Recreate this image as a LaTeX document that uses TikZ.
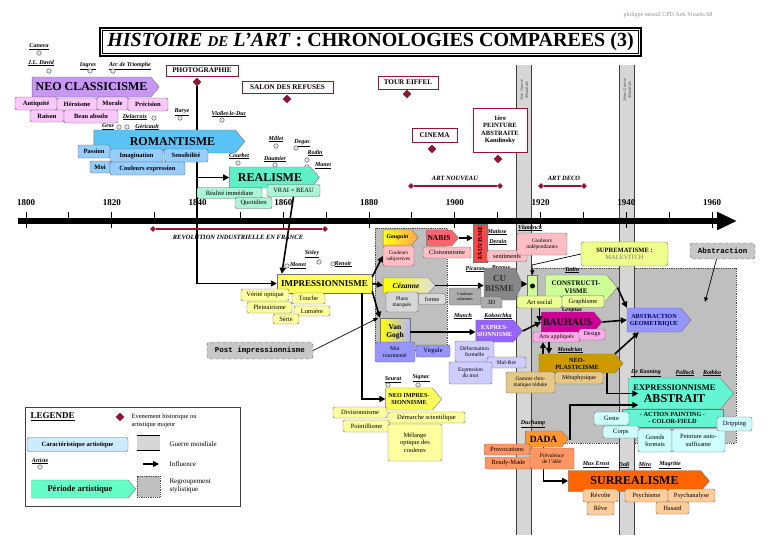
\documentclass[tikz,border=0pt]{standalone}
\usepackage{fontspec}
\setmainfont{Liberation Serif}
\setmonofont{Liberation Mono}
\usetikzlibrary{arrows.meta, positioning, shapes.symbols, shapes.geometric, backgrounds}
\definecolor{evred}{RGB}{150,20,50}
\definecolor{neoper}{RGB}{200,150,245}
\definecolor{neochar}{RGB}{250,200,250}
\definecolor{romper}{RGB}{90,195,245}
\definecolor{romchar}{RGB}{150,205,250}
\definecolor{realper}{RGB}{95,240,200}
\definecolor{realchar}{RGB}{170,245,215}
\definecolor{imprper}{RGB}{255,255,90}
\definecolor{imprchar}{RGB}{255,255,160}
\definecolor{pinkchar}{RGB}{255,190,195}
\definecolor{nabisper}{RGB}{255,100,110}
\definecolor{fauvper}{RGB}{255,70,70}
\definecolor{greychar}{RGB}{215,215,215}
\definecolor{cubper}{RGB}{135,135,135}
\definecolor{vgchar}{RGB}{150,150,250}
\definecolor{exprper}{RGB}{150,100,250}
\definecolor{exprchar}{RGB}{205,205,255}
\definecolor{constper}{RGB}{205,255,150}
\definecolor{constchar}{RGB}{235,255,150}
\definecolor{supper}{RGB}{240,255,140}
\definecolor{bauper}{RGB}{205,0,150}
\definecolor{bauchar}{RGB}{255,170,235}
\definecolor{abgper}{RGB}{150,150,255}
\definecolor{neoplper}{RGB}{205,155,0}
\definecolor{neoplchar}{RGB}{230,200,135}
\definecolor{exabper}{RGB}{100,245,210}
\definecolor{exabchar}{RGB}{205,255,255}
\definecolor{dadaper}{RGB}{255,150,50}
\definecolor{dadachar}{RGB}{255,150,100}
\definecolor{surrper}{RGB}{255,100,0}
\definecolor{surrchar}{RGB}{255,205,155}
\definecolor{legchar}{RGB}{205,235,255}
\definecolor{legper}{RGB}{100,255,200}
\newcommand{\tsz}[1]{\fontsize{#1}{\fpeval{1.12*#1}}\selectfont}

\begin{document}
\begin{tikzpicture}[x=1pt, y=-1pt,
		period/.style={signal, signal to=east, signal pointer angle=100, draw=black!55,
			fill=#1, inner sep=1pt, align=center, font=\bfseries},
		period/.default=white,
		trait/.style={draw=black!60, rounded corners=2pt, fill=#1, inner sep=0.5pt,
			align=center, minimum height=12pt, font=\tsz{6.8}},
		btrait/.style={trait=#1, font=\bfseries\tsz{6.5}},
		event/.style={draw=evred, fill=white, line width=0.8pt, inner sep=1pt,
			align=center, font=\bfseries\tsz{7.2}},
		evmark/.style={diamond, draw=evred!70!black, fill=evred, inner sep=0pt, minimum size=8pt},
		evend/.style={diamond, fill=evred, inner sep=0pt, minimum size=6pt},
		evline/.style={evred, line width=1.4pt},
		evlabel/.style={font=\bfseries\itshape\tsz{6.5}},
		artist/.style={inner sep=0.3pt, font=\bfseries\itshape\tsz{6}},
		adot/.style={circle, draw=black!75, fill=black!8, inner sep=0pt, minimum size=4.5pt},
		infl/.style={-{Triangle[length=6pt,width=6pt]}, line width=1.6pt},
		lightarr/.style={-{Triangle[length=4.5pt,width=4pt]}, line width=0.7pt},
		band/.style={fill=black!16, draw=none, minimum width=14pt, minimum height=470pt, inner sep=0pt},
		region/.style={fill=black!25, draw=black!70, densely dotted, line width=0.8pt, inner sep=0pt},
		note/.style={draw=black!70, dashed, rounded corners=3pt, fill=black!22,
			font=\ttfamily\bfseries\tsz{7.5}, inner sep=2pt},
		year/.style={font=\bfseries\tsz{9}}
	]
	\useasboundingbox (0,0) rectangle (768,543);

	% titre
	\node[minimum width=541pt, minimum height=28pt, inner sep=0pt, font=\bfseries\tsz{20}] (titre) at (370.5,42)
		{\textit{HISTOIRE {\tsz{15}DE} L'ART} : CHRONOLOGIES COMPAREES (3)};
	\draw[line width=1.6pt] (titre.north west) rectangle (titre.south east);
	\draw[line width=0.6pt] ([shift={(2.5,2.5)}]titre.north west) rectangle ([shift={(-2.5,-2.5)}]titre.south east);
	\node[font=\tsz{6}, text=black!45] (credit) at (668,15) {philippe mesnil CPD Arts Visuels 68};

	% regroupements et guerres
	\node[region, minimum width=72pt, minimum height=122pt] (regpost) at (411,289) {};
	\node[region, minimum width=205pt, minimum height=175pt] (regabs) at (633.5,355.5) {};
	\node[band] (ww1) at (524,300) {};
	\node[band] (ww2) at (627,300) {};
	\draw[line width=1.2pt, black!75] (ww1.north west) -- (ww1.south west) (ww1.north east) -- (ww1.south east);
	\draw[line width=1.2pt, black!75] (ww2.north west) -- (ww2.south west) (ww2.north east) -- (ww2.south east);
	\node[rotate=90, align=center, font=\itshape\tsz{4.5}, text=black!70] (ww1txt) at (524,90) {1ère Guerre\\Mondiale};
	\node[rotate=90, align=center, font=\itshape\tsz{4.5}, text=black!70] (ww2txt) at (627,90) {2ème Guerre\\Mondiale};

	% frise
	\coordinate (t0) at (18,221);
	\coordinate (t1) at (737,221);
	\draw[line width=6pt, -{Triangle[length=20pt,width=17pt]}] (t0) -- (t1);
	\foreach \k in {0,...,16}
		\draw[line width=1pt] ({26+42.875*\k},212) -- ({26+42.875*\k},221);
	\foreach \k in {0,2,...,16}
		\draw[line width=1pt] ({26+42.875*\k},221) -- ({26+42.875*\k},228);
	\foreach \k/\yr in {0/1800,2/1820,4/1840,6/1860,8/1880,10/1900,12/1920,14/1940,16/1960}
		\node[year] (y\yr) at ({26+42.875*\k},203) {\yr};

	% periodes historiques
	\node[evend] (revA) at (153,229) {};
	\node[evend] (revB) at (325,229) {};
	\draw[evline] (revA) -- (revB);
	\node[evlabel] (revtxt) at (238,237) {REVOLUTION INDUSTRIELLE EN FRANCE};
	\node[evend] (anA) at (411,186) {};
	\node[evend] (anB) at (500,186) {};
	\draw[evline] (anA) -- (anB);
	\node[evlabel] (antxt) at (455,178) {ART NOUVEAU};
	\node[evend] (adA) at (541,186) {};
	\node[evend] (adB) at (584,186) {};
	\draw[evline] (adA) -- (adB);
	\node[evlabel] (adtxt) at (564,178) {ART DECO};

	% evenements
	\node[event, minimum width=72pt, minimum height=11pt] (photo) at (202,70.5) {PHOTOGRAPHIE};
	\node[evmark] (photoev) at (197,82) {};
	\node[event, minimum width=91pt, minimum height=12pt] (salon) at (287.5,87) {SALON DES REFUSES};
	\node[evmark] (salonev) at (287,99) {};
	\node[event, minimum width=60pt, minimum height=13pt] (eiffel) at (408,82.5) {TOUR EIFFEL};
	\node[evmark] (eiffelev) at (407,94) {};
	\node[event, minimum width=45pt, minimum height=14pt] (cinema) at (434.5,135) {CINEMA};
	\node[evmark] (cinemaev) at (432,149) {};
	\node[event, minimum width=54pt, minimum height=44pt, font=\bfseries\tsz{6.5}] (kand) at (500,130) {1ère\\PEINTURE\\ABSTRAITE\\Kandinsky};
	\node[evmark] (kandev) at (498,159) {};

	% artistes
	\foreach \nm/\tx/\x/\y/\ox/\oy in {canova/Canova/39/47/39/53, david/J.L. David/41/63/49/71,
			ingres/Ingres/88/66/90/71, arc/Arc de Triomphe/130/66/113/71, barye/Barye/182/112/180/118,
			delacroix/Delacroix/135/117/154/118, gros/Gros/108/127/119/127, gericault/Géricault/147/127/127/127,
			viollet/Viollet-le-Duc/229/114/222/120, millet/Millet/276/139/276/146, degas/Degas/302/143/296/148,
			courbet/Courbet/239/156/238/163, daumier/Daumier/275/159/275/165, rodin/Rodin/315/153/307/160,
			manet/Manet/323/166/307/167, sisley/Sisley/312/254/319/262, monet/Monet/298/266/287/266,
			renoir/Renoir/343/264/333/264, seurat/Seurat/393/380/388/385, signac/Signac/421/378/418/385}{
		\node[artist] (\nm) at (\x,\y) {\underline{\tx}};
		\node[adot] (\nm-o) at (\ox,\oy) {};
	}
	\foreach \nm/\tx/\x/\y in {matisse/Matisse/497/232, derain/Derain/498/242, vlaminck/Vlaminck/530/228,
			picasso/Picasso/475/269, braque/Braque/501/269, munch/Munch/463/316, kokoschka/Kokoschka/498/316,
			tatlin/Tatlin/572/270, gropius/Gropius/572/311, mondrian/Mondrian/570/350, duchamp/Duchamp/533/424,
			kooning/De Kooning/646/373, pollock/Pollock/685/373, rothko/Rothko/712/373, ernst/Max Ernst/596/465,
			dali/Dali/624/465, miro/Miro/645/465, magritte/Magritte/670/465}
		\node[artist] (\nm) at (\x,\y) {\underline{\tx}};

	% neo classicisme
	\node[period=neoper, minimum width=127pt, minimum height=20pt, font=\bfseries\tsz{12}] (neo) at (91.5,87) {NEO CLASSICISME};
	\node[btrait=neochar, minimum width=42pt, minimum height=13pt] (antiq) at (36,103.5) {Antiquité};
	\node[btrait=neochar, minimum width=40pt, minimum height=13pt] (heroi) at (77,104.5) {Héroïsme};
	\node[btrait=neochar, minimum width=31pt, minimum height=13pt] (morale) at (112.5,103.5) {Morale};
	\node[btrait=neochar, minimum width=40pt, minimum height=13pt] (precis) at (148,104.5) {Précision};
	\node[btrait=neochar, minimum width=34pt, minimum height=12pt] (raison) at (47,116) {Raison};
	\node[btrait=neochar, minimum width=54pt, minimum height=13pt] (beau) at (91,116.5) {Beau absolu};

	% romantisme
	\node[period=romper, minimum width=151pt, minimum height=23pt, font=\bfseries\tsz{12}] (roman) at (164.5,141.5) {\hspace*{16pt}ROMANTISME};
	\node[btrait=romchar, minimum width=32pt, minimum height=13pt] (passion) at (94,151.5) {Passion};
	\node[btrait=romchar, minimum width=53pt, minimum height=13pt] (imagin) at (136.5,155.5) {Imagination};
	\node[btrait=romchar, minimum width=44pt, minimum height=13pt] (sensib) at (186,155.5) {Sensibilité};
	\node[btrait=romchar, minimum width=20pt, minimum height=12pt] (moi) at (100,167) {Moi};
	\node[btrait=romchar, minimum width=75pt, minimum height=13pt] (coulexp) at (147.5,168.5) {Couleurs expression};

	% realisme
	\node[period=realper, minimum width=90pt, minimum height=21pt, font=\bfseries\tsz{12}] (real) at (270,177.5) {REALISME};
	\node[trait=realchar, minimum width=65pt, minimum height=11pt, font=\tsz{6.5}] (realimm) at (229.5,193) {Réalité immédiate};
	\node[trait=realchar, minimum width=53pt, minimum height=12pt, font=\tsz{6.5}] (vrai) at (293.5,190.5) {VRAI = BEAU};
	\node[trait=realchar, minimum width=37pt, minimum height=11pt, font=\tsz{6.5}] (quotid) at (253.5,203) {Quotidien};

	% impressionnisme
	\node[draw=black!55, fill=imprper, minimum width=95pt, minimum height=19pt, inner sep=1pt, font=\bfseries\tsz{9}] (impr) at (324.5,283.5) {IMPRESSIONNISME};
	\node[trait=imprchar, minimum width=48pt, minimum height=12pt, font=\tsz{6.5}] (verite) at (265,295) {Vérité optique};
	\node[trait=imprchar, minimum width=33pt, minimum height=11pt, font=\tsz{6.5}] (touche) at (308.5,298.5) {Touche};
	\node[trait=imprchar, minimum width=45pt, minimum height=11pt, font=\tsz{6.5}] (plein) at (269.5,307.5) {Pleinairisme};
	\node[trait=imprchar, minimum width=36pt, minimum height=10pt, font=\tsz{6.5}] (lumiere) at (312,311) {Lumière};
	\node[trait=imprchar, minimum width=26pt, minimum height=10pt, font=\tsz{6.5}] (serie) at (286,319) {Série};

	% post impressionnisme
	\node[period, left color=yellow!90!white, right color=orange!70, minimum width=35pt, minimum height=15pt, font=\bfseries\itshape\tsz{6}] (gauguin) at (397.5,237.5) {Gauguin};
	\node[trait=pinkchar, minimum width=31pt, minimum height=20pt, font=\tsz{5.3}] (subj) at (398.5,256) {Couleurs\\subjectives};
	\node[period=nabisper, minimum width=32pt, minimum height=16pt, font=\bfseries\tsz{7.5}] (nabis) at (439,238) {NABIS};
	\node[trait=pinkchar, minimum width=48pt, minimum height=11pt, font=\tsz{6.5}] (cloison) at (447,252.5) {Cloisonnisme};
	\node[period, left color=yellow, right color=black!12, minimum width=52pt, minimum height=15pt, font=\bfseries\itshape\tsz{7.5}] (cezanne) at (406,285.5) {Cézanne};
	\node[trait=greychar, minimum width=32pt, minimum height=20pt, font=\tsz{5.5}] (plans) at (402,302) {Plans\\marqués};
	\node[trait=greychar, minimum width=27pt, minimum height=11pt, font=\tsz{6}] (forme) at (432,299) {forme};
	\node[draw=black!55, left color=yellow, right color=vgchar!70, minimum width=30pt, minimum height=28pt, inner sep=0.5pt, align=center, font=\bfseries\tsz{7.5}] (vangogh) at (395,332) {Van\\Gogh};
	\node[trait=vgchar, minimum width=40pt, minimum height=20pt, font=\tsz{5.8}] (moitour) at (395,352) {Moi\\tourmenté};
	\node[trait=vgchar, minimum width=34pt, minimum height=12pt, font=\tsz{6.5}] (virgule) at (433,351) {Virgule};
	\node[period=imprper, minimum width=56pt, minimum height=22pt, font=\bfseries\tsz{6.2}] (neoimpr) at (409,399) {NEO IMPRES-\\SIONNISME};
	\node[trait=imprchar, minimum width=54pt, minimum height=11pt, font=\tsz{6.5}] (divis) at (360,412.5) {Divisionnisme};
	\node[trait=imprchar, minimum width=47pt, minimum height=12pt, font=\tsz{6.5}] (pointil) at (366.5,426) {Pointillisme};
	\node[trait=imprchar, minimum width=77pt, minimum height=11pt, font=\tsz{6.5}] (demarche) at (426.5,417.5) {Démarche scientifique};
	\node[trait=imprchar, minimum width=54pt, minimum height=37pt, font=\tsz{6.5}] (melange) at (415,442.5) {Mélange\\optique des\\couleurs};

	% fauvisme, cubisme, expressionnisme
	\node[draw=black!55, fill=fauvper, minimum width=14pt, minimum height=38pt, inner sep=0pt, font=\bfseries\tsz{6.3}] (fauv) at (480,243) {\rotatebox{90}{FAUVISME}};
	\node[trait=pinkchar, minimum width=40pt, minimum height=11pt, font=\tsz{6.5}] (sentim) at (507,256) {sentiments};
	\node[trait=pinkchar, minimum width=50pt, minimum height=22pt, font=\tsz{5.5}] (coulind) at (542,244) {Couleurs\\indépendantes};
	\node[period=cubper, signal pointer angle=130, minimum width=38pt, minimum height=32pt, text=black!80, font=\bfseries\tsz{9}] (cubisme) at (499.5,284) {CU\\BISME};
	\node[trait=greychar!80!black, minimum width=32pt, minimum height=17pt, font=\tsz{4.3}] (coulrab) at (465,296.5) {Couleurs\\rabattues};
	\node[trait=greychar!80!black, minimum width=21pt, minimum height=11pt, font=\tsz{6.3}] (troisd) at (491.5,302.5) {3D};
	\node[period=exprper, minimum width=45pt, minimum height=22pt, text=white, font=\bfseries\tsz{6.2}] (expr) at (494.5,331) {EXPRES-\\SIONNISME};
	\node[trait=exprchar, minimum width=39pt, minimum height=21pt, font=\tsz{5.6}] (deform) at (474.5,351.5) {Déformation\\formelle};
	\node[trait=exprchar, minimum width=39pt, minimum height=11pt, font=\tsz{5.6}] (malet) at (506.5,362.5) {Mal-être};
	\node[trait=exprchar, minimum width=43pt, minimum height=22pt, font=\tsz{5.6}] (exmoi) at (470.5,373) {Expression\\du moi};

	% abstraction
	\node[draw=black!55, fill=constper, minimum width=10pt, minimum height=22pt, inner sep=0pt] (constrj) at (532.5,286) {};
	\node[circle, fill=black, inner sep=0pt, minimum size=5pt] (constrdot) at (constrj.center) {};
	\node[period=constper, minimum width=72pt, minimum height=25pt, font=\bfseries\tsz{7}] (constr) at (576,287.5) {CONSTRUCTI-\\VISME};
	\node[trait=constchar, minimum width=45pt, minimum height=12pt, font=\tsz{6.5}] (artsoc) at (539.5,302) {Art social};
	\node[trait=constchar, minimum width=42pt, minimum height=12pt, font=\tsz{6.5}] (graph) at (583,301.5) {Graphisme};
	\node[draw=black!60, rounded corners=3pt, fill=supper, minimum width=87pt, minimum height=24pt, align=center, font=\tsz{6.5}] (suprem) at (624.5,254) {\textbf{SUPREMATISME :}\\{\color{black!55}MALEVITCH}};
	\node[period=bauper, minimum width=61pt, minimum height=20pt, font=\bfseries\tsz{10}] (bauhaus) at (567.5,322) {BAUHAUS};
	\node[trait=bauchar, minimum width=47pt, minimum height=10pt, font=\tsz{6}] (arts) at (556.5,337) {Arts appliqués};
	\node[trait=bauchar, minimum width=26pt, minimum height=11pt, font=\tsz{6}] (design) at (592,334.5) {Design};
	\node[period=abgper, minimum width=64pt, minimum height=24pt, text=blue!30!black, font=\bfseries\tsz{6.2}] (abgeo) at (654,320) {ABSTRACTION\\GEOMETRIQUE};
	\node[period=neoplper, minimum width=84pt, minimum height=19pt, font=\bfseries\tsz{6.3}] (neopl) at (577,363.5) {NEO-\\PLASTICISME};
	\node[trait=neoplchar, minimum width=49pt, minimum height=21pt, font=\tsz{5.4}] (gamme) at (530.5,382.5) {Gamme chro-\\matique réduite};
	\node[trait=neoplchar, minimum width=48pt, minimum height=12pt, font=\tsz{6}] (metaph) at (579,378) {Métaphysique};
	\node[period=exabper, minimum width=105pt, minimum height=31pt, font=\bfseries\tsz{8.5}] (exabs) at (674.5,393.5) {EXPRESSIONNISME\\[2.5pt]{\tsz{12}ABSTRAIT}};
	\node[draw=black!55, fill=exabper, minimum width=101pt, minimum height=18pt, inner sep=0pt, align=center, font=\bfseries\tsz{6.3}] (exabsb) at (672.5,418) {- ACTION PAINTING -\\- COLOR-FIELD};
	\node[trait=exabchar, minimum width=35pt, minimum height=13pt, font=\tsz{6.5}] (geste) at (611.5,418.5) {Geste};
	\node[trait=exabchar, minimum width=36pt, minimum height=12pt, font=\tsz{6.5}] (corps) at (621,432) {Corps};
	\node[trait=exabchar, minimum width=34pt, minimum height=23pt, font=\tsz{6.5}] (grands) at (655,440.5) {Grands\\formats};
	\node[trait=exabchar, minimum width=53pt, minimum height=23pt, font=\tsz{6.5}] (peint) at (698.5,440.5) {Peinture auto-\\suffisante};
	\node[trait=exabchar, minimum width=35pt, minimum height=14pt, font=\tsz{6.5}] (dripp) at (734.5,424) {Dripping};

	% dada, surrealisme
	\node[period=dadaper, minimum width=43pt, minimum height=16pt, font=\bfseries\tsz{9.5}] (dada) at (543.5,439) {DADA};
	\node[period=surrper, minimum width=141pt, minimum height=21pt, font=\bfseries\tsz{12}] (surr) at (634.5,481) {SURREALISME};
	\begin{scope}[on background layer]
		\draw[infl] (photoev.south) |- (impr.west);
		\draw[infl] (dada.south) |- (surr.west);
	\end{scope}
	\node[trait=dadachar, minimum width=46pt, minimum height=11pt, font=\tsz{6.5}] (provoc) at (507,449.5) {Provocations};
	\node[trait=dadachar, minimum width=47pt, minimum height=12pt, font=\tsz{6.5}] (ready) at (508.5,463) {Ready-Made};
	\node[trait=dadachar, minimum width=44pt, minimum height=21pt, font=\tsz{5.5}] (preval) at (552,458.5) {Prévalence\\de l'idée};
	\node[trait=surrchar, minimum width=35pt, minimum height=13pt, font=\tsz{6.5}] (revolte) at (600.5,495.5) {Révolte};
	\node[trait=surrchar, minimum width=27pt, minimum height=13pt, font=\tsz{6.5}] (reve) at (600.5,508.5) {Rêve};
	\node[trait=surrchar, minimum width=43pt, minimum height=13pt, font=\tsz{6.5}] (psychi) at (646.5,495.5) {Psychisme};
	\node[trait=surrchar, minimum width=47pt, minimum height=13pt, font=\tsz{6.5}] (psychan) at (691.5,495.5) {Psychanalyse};
	\node[trait=surrchar, minimum width=33pt, minimum height=12pt, font=\tsz{6.5}] (hasard) at (672.5,508) {Hasard};

	% notes
	\node[note, minimum width=106pt, minimum height=17pt] (postimp) at (260,350.5) {Post impressionnisme};
	\node[note, minimum width=65pt, minimum height=16pt] (abstr) at (722.5,251) {Abstraction};
	\coordinate (postimptip) at (378,318);
	\coordinate (abstrtip) at (705,302);
	\draw[lightarr] (postimp.east) -- (postimptip);
	\draw[lightarr] ([xshift=-6pt]abstr.south) -- (abstrtip);

	% influences
	\draw[infl] (photoev.south |- real.west) -- (real.west);
	\draw[infl] (vrai.south) -- ([xshift=5pt]impr.north west);
	\draw[infl] ([yshift=-3pt]impr.north east) -- (subj.west);
	\draw[infl] (impr.east) -- (cezanne.west);
	\draw[infl] ([yshift=2pt]impr.south east) -- (vangogh.north west);
	\draw[infl] ([xshift=-10pt]impr.south east) |- (neoimpr.west);
	\draw[infl] (nabis.east) -- (nabis.east -| fauv.west);
	\draw[infl] (cezanne.east) -- (cezanne.east -| cubisme.west);
	\draw[infl] (cubisme.east) -- (cubisme.east -| constrj.west);
	\draw[infl] (vangogh.east) -- (vangogh.east -| expr.west);
	\draw[infl] (expr.east) -- (bauhaus.west);
	\coordinate (supbend) at (532,265);
	\draw[lightarr] (suprem.west) -- (supbend) -- (constrj.north);
	\draw[infl] (artsoc.south) -- (artsoc.south |- bauhaus.center);
	\draw[infl] ([xshift=-34pt]neopl.north) -- ([xshift=-34pt]neopl.north |- arts.south);
	\draw[infl] ([xshift=-28pt]neopl.north |- arts.south) -- ([xshift=-28pt]neopl.north);
	\draw[infl] (constr.east) -- (abgeo.north west);
	\draw[infl] (bauhaus.east) -- (abgeo.west);
	\draw[infl] ([xshift=38pt]neopl.north) -- ([xshift=12pt]abgeo.south west);
	\draw[infl] ([xshift=30pt]neopl.south) |- ([xshift=10pt]exabs.west);
	\coordinate (dadaup) at (570,405);
	\draw[infl] (dada.east) -| (dadaup) -- ([xshift=10pt]dadaup -| exabs.west);

	% legende
	\node[draw=black!75, line width=0.8pt, minimum width=215pt, minimum height=99pt] (legende) at (132.5,456.5) {};
	\node[anchor=west, font=\bfseries\tsz{9}] (legtitre) at (27,417) {\underline{LEGENDE}};
	\node[evmark] (legev) at (120,417) {};
	\node[anchor=west, align=left, font=\tsz{6.5}] (legevt) at (128,421) {Evenement historique ou\\artistique majeur};
	\node[trait=legchar, minimum width=101pt, minimum height=14pt, font=\bfseries\tsz{6.5}] (legtrait) at (77.5,444.5) {Caractéristique artistique};
	\node[band, minimum width=23pt, minimum height=15pt] (legband) at (148.5,443) {};
	\draw[line width=1pt] (legband.north west) -- (legband.north east) (legband.south west) -- (legband.south east);
	\node[anchor=west, font=\tsz{7}] (legbandt) at (166,444) {Guerre mondiale};
	\node[artist] (legart) at (40,461) {\underline{Artiste}};
	\node[adot] (legart-o) at (40,467) {};
	\coordinate (legfa) at (143,464);
	\coordinate (legfb) at (159,464);
	\draw[infl] (legfa) -- (legfb);
	\node[anchor=west, font=\tsz{7}] (leginf) at (166,464) {Influence};
	\node[period=legper, minimum width=104pt, minimum height=18pt, font=\bfseries\tsz{8.5}] (legper) at (80,489) {Période artistique};
	\node[region, minimum width=23pt, minimum height=21pt] (legreg) at (148.5,486.5) {};
	\node[anchor=west, align=left, font=\tsz{7}] (legregt) at (166,486) {Regroupement\\stylistique};
\end{tikzpicture}
\end{document}
